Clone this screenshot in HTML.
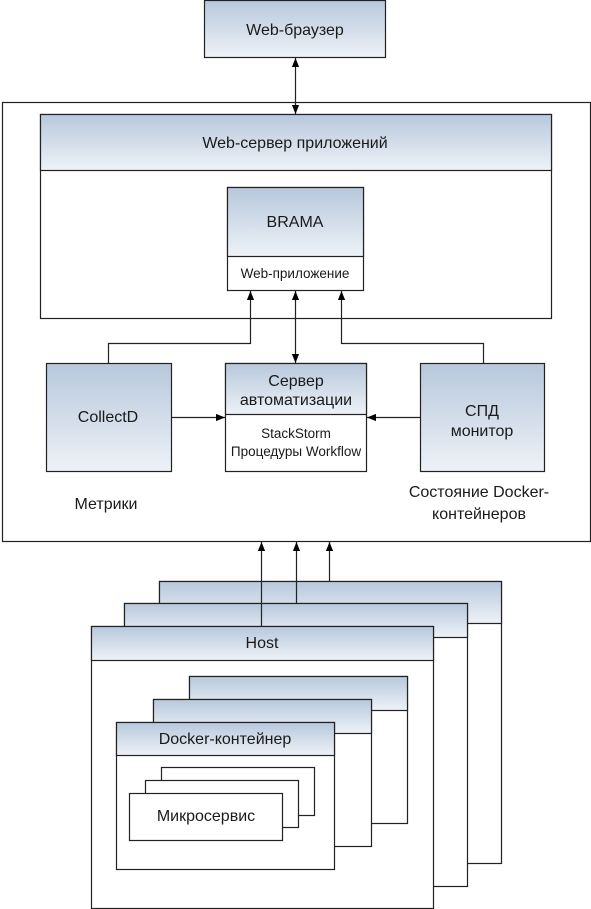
<!DOCTYPE html>
<html><head><meta charset="utf-8"><style>
html,body{margin:0;padding:0;background:#fff}
svg{display:block}
text{font-family:"Liberation Sans",Arial,sans-serif;fill:#1a1a1a}
</style></head><body>
<svg width="591" height="909" viewBox="0 0 591 909" xmlns="http://www.w3.org/2000/svg">
<defs>
<linearGradient id="g" x1="0" y1="0" x2="0" y2="1">
<stop offset="0" stop-color="#b7c8dc"/><stop offset="1" stop-color="#eef2f7"/>
</linearGradient>
<marker id="a" viewBox="0 0 10 10" refX="10" refY="5" markerWidth="9" markerHeight="9" orient="auto-start-reverse" markerUnits="userSpaceOnUse">
<path d="M0,1 L10,5 L0,9 z" fill="#000"/></marker>
</defs>
<g stroke="#222" stroke-width="1.2" fill="none">
<rect x="204.5" y="0.5" width="181" height="57" fill="url(#g)"/>
<rect x="2.5" y="102.5" width="588" height="439" fill="#fff"/>
<rect x="40.5" y="114.5" width="511" height="204" fill="#fff"/>
<rect x="40.5" y="114.5" width="511" height="56" fill="url(#g)"/>
<rect x="227.5" y="187.5" width="136" height="103" fill="#fff"/>
<rect x="227.5" y="187.5" width="136" height="69" fill="url(#g)"/>
<rect x="46.5" y="363.5" width="125" height="108" fill="url(#g)"/>
<rect x="225.5" y="363.5" width="141" height="108" fill="#fff"/>
<rect x="225.5" y="363.5" width="141" height="51" fill="url(#g)"/>
<rect x="420.5" y="363.5" width="124" height="108" fill="url(#g)"/>
<line x1="295.5" y1="58" x2="295.5" y2="114" marker-start="url(#a)" marker-end="url(#a)"/>
<line x1="295.5" y1="291" x2="295.5" y2="363" marker-start="url(#a)" marker-end="url(#a)"/>
<polyline points="108.5,363 108.5,343.5 250.5,343.5 250.5,291" marker-end="url(#a)"/>
<polyline points="483.5,363 483.5,343.5 341.5,343.5 341.5,291" marker-end="url(#a)"/>
<line x1="171" y1="417.5" x2="225" y2="417.5" marker-end="url(#a)"/>
<line x1="420" y1="417.5" x2="367" y2="417.5" marker-end="url(#a)"/>
<rect x="159.5" y="581.5" width="342" height="282" fill="#fff"/>
<rect x="159.5" y="581.5" width="342" height="42" fill="url(#g)"/>
<rect x="124.5" y="603.5" width="343" height="283" fill="#fff"/>
<rect x="124.5" y="603.5" width="343" height="34" fill="url(#g)"/>
<rect x="91.5" y="626.5" width="342" height="282" fill="#fff"/>
<rect x="91.5" y="626.5" width="342" height="34" fill="url(#g)"/>
<line x1="261.5" y1="626" x2="261.5" y2="542" marker-end="url(#a)"/>
<line x1="296.5" y1="603" x2="296.5" y2="542" marker-end="url(#a)"/>
<line x1="329.5" y1="581" x2="329.5" y2="542" marker-end="url(#a)"/>
<rect x="189.5" y="676.5" width="218" height="147" fill="#fff"/>
<rect x="189.5" y="676.5" width="218" height="34" fill="url(#g)"/>
<rect x="153.5" y="699.5" width="218" height="147" fill="#fff"/>
<rect x="153.5" y="699.5" width="218" height="34" fill="url(#g)"/>
<rect x="116.5" y="722.5" width="218" height="147" fill="#fff"/>
<rect x="116.5" y="722.5" width="218" height="33" fill="url(#g)"/>
<rect x="161.5" y="767.5" width="153" height="48" fill="#fff"/>
<rect x="145.5" y="780.5" width="153" height="47" fill="#fff"/>
<rect x="129.5" y="793.5" width="153" height="47" fill="#fff"/>
</g>
<g font-size="16" text-anchor="middle">
<text x="295" y="35">Web-браузер</text>
<text x="295" y="148">Web-сервер приложений</text>
<text x="295" y="255" dy="-28">BRAMA</text>
<text x="295" y="278" font-size="13.5">Web-приложение</text>
<text x="108" y="422">CollectD</text>
<text x="296" y="386">Сервер</text>
<text x="296" y="405">автоматизации</text>
<text x="296" y="448" dy="-10" font-size="13.5">StackStorm</text>
<text x="296" y="456" font-size="13.5">Процедуры Workflow</text>
<text x="482" y="416">СПД</text>
<text x="482" y="436">монитор</text>
<text x="106" y="509">Метрики</text>
<text x="479" y="497">Состояние Docker-</text>
<text x="479" y="519">контейнеров</text>
<text x="262" y="648">Host</text>
<text x="225" y="744">Docker-контейнер</text>
<text x="206" y="821">Микросервис</text>
</g>
</svg>
</body></html>
